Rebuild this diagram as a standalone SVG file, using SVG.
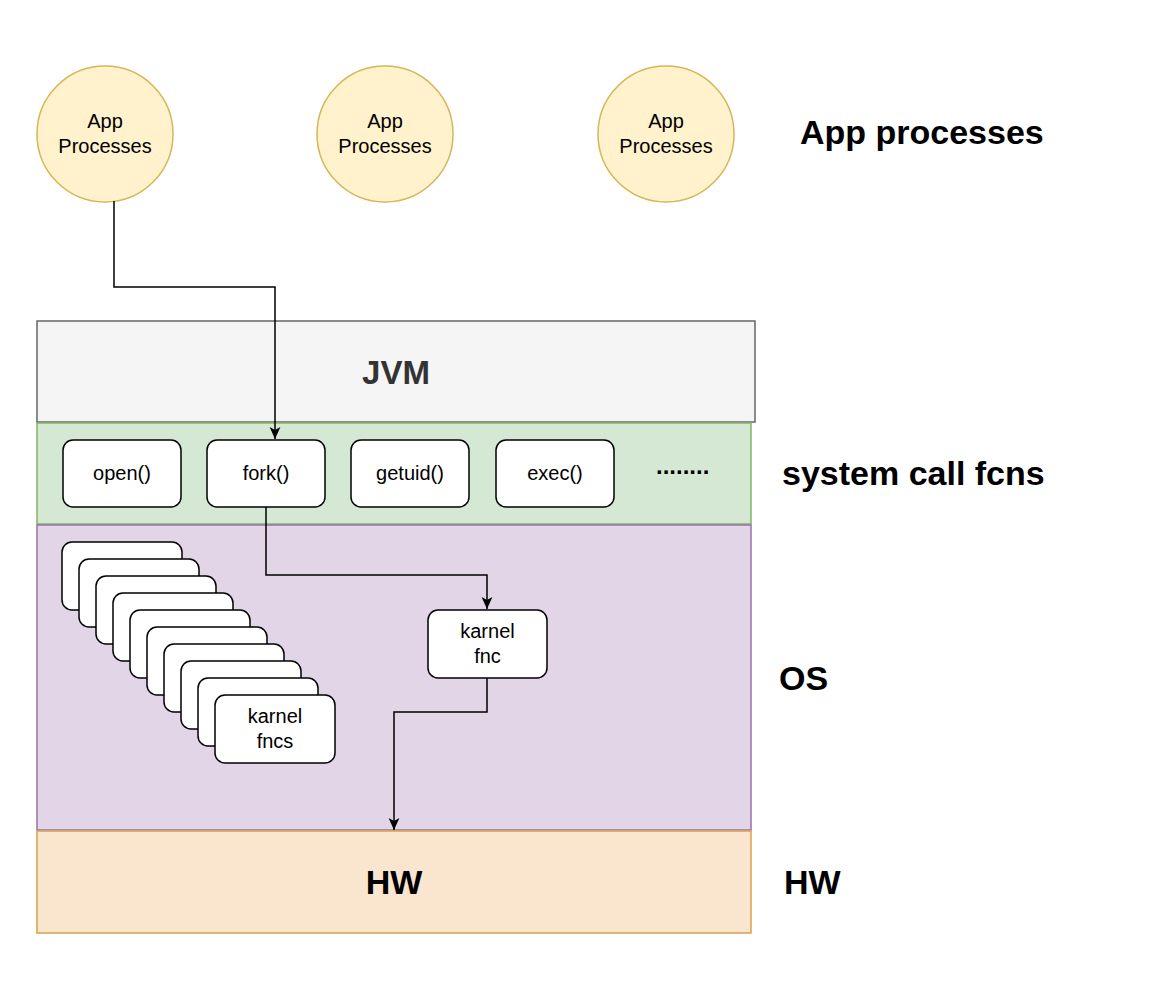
<svg xmlns="http://www.w3.org/2000/svg" width="1156" height="1006" viewBox="0 0 1156 1006">
<style>
text { font-family: "Liberation Sans", Arial, Helvetica, sans-serif; }
.circ { fill: #fff2cc; stroke: #d6b656; stroke-width: 1.5; }
.box { fill: #ffffff; stroke: #000000; stroke-width: 1.5; }
.t20 { font-size: 20px; fill: #000; text-anchor: middle; }
.big { font-size: 34px; font-weight: bold; fill: #000; }
.conn { fill: none; stroke: #000; stroke-width: 1.5; }
</style>
<defs>
<marker id="arr" viewBox="0 0 10 10" refX="10" refY="5" markerWidth="12" markerHeight="12" markerUnits="userSpaceOnUse" orient="auto">
<path d="M0,0.5 L10,5 L0,9.5 L2.5,5 Z" fill="#000"/>
</marker>
</defs>
<rect width="1156" height="1006" fill="#ffffff"/>

<g id="layer-jvm">
<rect x="37" y="321" width="718" height="101" fill="#f5f5f5" stroke="#666666" stroke-width="1.5"/>
<text x="396" y="384" font-size="33" font-weight="bold" fill="#333333" text-anchor="middle">JVM</text>
</g>
<g id="layer-syscall">
<rect x="37" y="423" width="714" height="101" fill="#d5e8d4" stroke="#82b366" stroke-width="1.5"/>
</g>
<g id="layer-os">
<rect x="37" y="525" width="714" height="305" fill="#e1d5e7" stroke="#9673a6" stroke-width="1.5"/>
</g>
<g id="layer-hw">
<rect x="37" y="831" width="714" height="102" fill="#fae6cf" stroke="#d6a24e" stroke-width="1.5"/>
<text x="394" y="894" font-size="34" font-weight="bold" fill="#000" text-anchor="middle">HW</text>
</g>

<g id="app1"><circle class="circ" cx="105" cy="134" r="68"/><text class="t20" x="105" y="128">App</text><text class="t20" x="105" y="153">Processes</text></g>
<g id="app2"><circle class="circ" cx="385" cy="134" r="68"/><text class="t20" x="385" y="128">App</text><text class="t20" x="385" y="153">Processes</text></g>
<g id="app3"><circle class="circ" cx="666" cy="134" r="68"/><text class="t20" x="666" y="128">App</text><text class="t20" x="666" y="153">Processes</text></g>

<g id="open"><rect class="box" x="63" y="440" width="118" height="67" rx="10"/><text class="t20" x="122" y="480">open()</text></g>
<g id="fork"><rect class="box" x="207" y="440" width="118" height="67" rx="10"/><text class="t20" x="266" y="480">fork()</text></g>
<g id="getuid"><rect class="box" x="351" y="440" width="118" height="67" rx="10"/><text class="t20" x="410" y="480">getuid()</text></g>
<g id="exec"><rect class="box" x="496" y="440" width="118" height="67" rx="10"/><text class="t20" x="555" y="480">exec()</text></g>
<g id="more"><text x="656" y="474" font-size="24" font-weight="bold" fill="#000">........</text></g>

<g id="kernel-fncs">
<rect class="box" x="62" y="542" width="120" height="68" rx="10"/>
<rect class="box" x="79" y="559" width="120" height="68" rx="10"/>
<rect class="box" x="96" y="576" width="120" height="68" rx="10"/>
<rect class="box" x="113" y="593" width="120" height="68" rx="10"/>
<rect class="box" x="130" y="610" width="120" height="68" rx="10"/>
<rect class="box" x="147" y="627" width="120" height="68" rx="10"/>
<rect class="box" x="164" y="644" width="120" height="68" rx="10"/>
<rect class="box" x="181" y="661" width="120" height="68" rx="10"/>
<rect class="box" x="198" y="678" width="120" height="68" rx="10"/>
<rect class="box" x="215" y="695" width="120" height="68" rx="10"/>
<text class="t20" x="275" y="723">karnel</text>
<text class="t20" x="275" y="748">fncs</text>
</g>

<g id="kernel-fnc"><rect class="box" x="428" y="610" width="119" height="68" rx="10"/><text class="t20" x="487.5" y="638">karnel</text><text class="t20" x="487.5" y="663">fnc</text></g>

<g id="labels">
<text class="big" x="800" y="144">App processes</text>
<text class="big" x="782" y="485">system call fcns</text>
<text class="big" x="779" y="690">OS</text>
<text class="big" x="784" y="894">HW</text>
</g>

<g id="connectors">
<path class="conn" d="M114,201 L114,287 L275,287 L275,439" marker-end="url(#arr)"/>
<path class="conn" d="M266,507 L266,575 L487,575 L487,609" marker-end="url(#arr)"/>
<path class="conn" d="M487,678 L487,712 L394,712 L394,830" marker-end="url(#arr)"/>
</g>
</svg>
